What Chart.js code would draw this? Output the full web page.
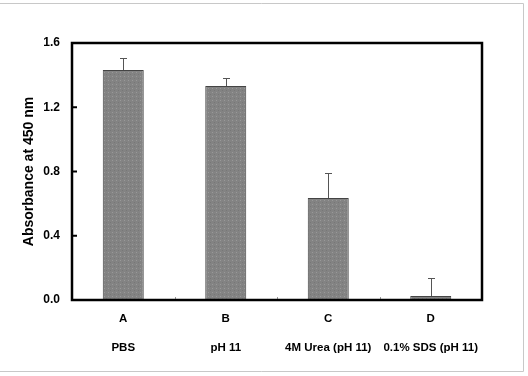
<!DOCTYPE html>
<html>
<head>
<meta charset="utf-8">
<script src="https://cdn.jsdelivr.net/npm/chart.js@4"></script>
<style>
  html, body { margin: 0; padding: 0; background: #fff; }
  #wrap { position: relative; width: 528px; height: 376px; }
</style>
</head>
<body>
<div id="wrap"><canvas id="chart" width="528" height="376"></canvas></div>
<script>
// data
const letters = ['A', 'B', 'C', 'D'];
const conditions = ['PBS', 'pH 11', '4M Urea (pH 11)', '0.1% SDS (pH 11)'];
const absorbance = [1.432, 1.332, 0.635, 0.025];
const errors = [0.075, 0.05, 0.155, 0.112];
const yTicks = [0, 0.4, 0.8, 1.2, 1.6];

const FONT = "'Liberation Sans', Arial, sans-serif";

// grey dithered fill like the original print
function makePattern() {
  const c = document.createElement('canvas');
  c.width = 4; c.height = 4;
  const g = c.getContext('2d');
  g.fillStyle = '#838383';
  g.fillRect(0, 0, 4, 4);
  g.fillStyle = '#999999';
  g.fillRect(0, 0, 1, 1);
  g.fillStyle = '#777777';
  g.fillRect(2, 2, 1, 1);
  return g.createPattern(c, 'repeat');
}

const ctx = document.getElementById('chart').getContext('2d');

// frame, inside ticks and error bars
const decor = {
  id: 'decor',
  beforeDraw(chart) {
    const c = chart.ctx;
    c.save();
    c.strokeStyle = '#c8c8c8';
    c.lineWidth = 1;
    c.beginPath();
    c.moveTo(0, 3.5);
    c.lineTo(523.5, 3.5);
    c.lineTo(523.5, 371.5);
    c.lineTo(0, 371.5);
    c.stroke();
    c.restore();
  },
  afterDatasetsDraw(chart) {
    const c = chart.ctx;
    const { left, right, top, bottom } = chart.chartArea;
    const x = chart.scales.x, y = chart.scales.y;
    c.save();

    // error bars (upper only)
    const meta = chart.getDatasetMeta(0);
    c.strokeStyle = '#555';
    c.lineWidth = 1;
    meta.data.forEach((bar, i) => {
      const px = Math.round(bar.x) + 0.5;
      const y0 = y.getPixelForValue(absorbance[i]);
      const y1 = Math.round(y.getPixelForValue(absorbance[i] + errors[i])) + 0.5;
      c.beginPath();
      c.moveTo(px, y0);
      c.lineTo(px, y1);
      c.moveTo(px - 3.5, y1);
      c.lineTo(px + 3.5, y1);
      c.stroke();
    });

    // small grey ticks between categories
    c.strokeStyle = '#999';
    c.lineWidth = 1;
    for (let i = 1; i < letters.length; i++) {
      const bx = Math.round((x.getPixelForValue(i - 1) + x.getPixelForValue(i)) / 2) + 0.5;
      c.beginPath();
      c.moveTo(bx, bottom);
      c.lineTo(bx, bottom - 3);
      c.stroke();
    }

    // y ticks pointing inward
    c.strokeStyle = '#000';
    c.lineWidth = 2;
    yTicks.forEach(v => {
      const py = y.getPixelForValue(v);
      c.beginPath();
      c.moveTo(left, py);
      c.lineTo(left + 5, py);
      c.stroke();
    });

    // plot frame
    c.lineWidth = 2.5;
    c.strokeRect(left, top, right - left, bottom - top);
    c.restore();
  }
};

new Chart(ctx, {
  type: 'bar',
  data: {
    labels: letters.map((l, i) => [l, '', conditions[i]]),
    datasets: [{
      data: absorbance,
      backgroundColor: makePattern(),
      borderColor: '#444',
      borderWidth: 1,
      categoryPercentage: 1,
      barPercentage: 0.4
    }]
  },
  options: {
    responsive: false,
    animation: false,
    events: [],
    layout: { padding: { left: 21, right: 46, top: 43, bottom: 0 } },
    plugins: { legend: { display: false }, tooltip: { enabled: false } },
    scales: {
      x: {
        grid: { display: false, drawTicks: false },
        border: { display: false },
        ticks: {
          color: '#000',
          padding: 12,
          maxRotation: 0,
          autoSkip: false,
          font: { family: FONT, size: 11.5, weight: 'bold', lineHeight: 1.26 }
        },
        afterFit(scale) { scale.height = 76; }
      },
      y: {
        min: 0,
        max: 1.6,
        afterBuildTicks(scale) { scale.ticks = yTicks.map(v => ({ value: v })); },
        grid: { display: false, drawTicks: false },
        border: { display: false },
        ticks: {
          color: '#000',
          padding: 12,
          font: { family: FONT, size: 12, weight: 'bold' },
          callback: v => v.toFixed(1)
        },
        title: {
          display: true,
          text: 'Absorbance at 450 nm',
          color: '#000',
          padding: { top: 0, bottom: 0 },
          font: { family: FONT, size: 14, weight: 'bold' }
        },
        afterFit(scale) { scale.width = 51; }
      }
    }
  },
  plugins: [decor]
});
</script>
</body>
</html>
